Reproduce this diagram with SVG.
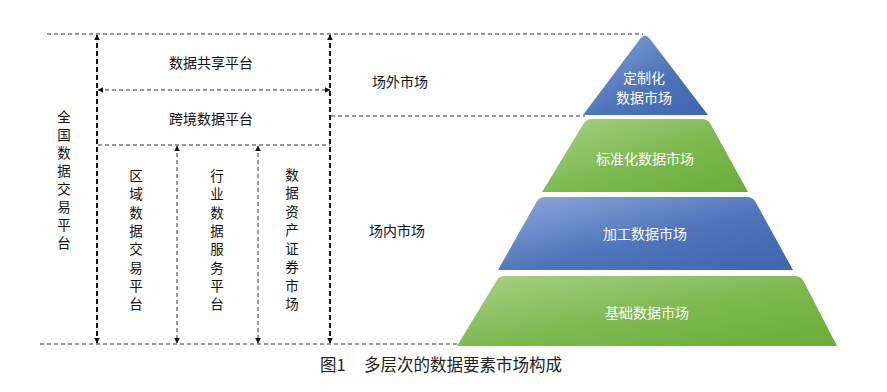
<svg xmlns="http://www.w3.org/2000/svg" width="887" height="392" viewBox="0 0 887 392">
<defs>
<linearGradient id="gBlue" x1="0" y1="0" x2="1" y2="1">
<stop offset="0" stop-color="#8ea9da"/>
<stop offset="0.55" stop-color="#4f74ba"/>
<stop offset="1" stop-color="#3e65b0"/>
</linearGradient>
<linearGradient id="gGreen" x1="0" y1="0" x2="1" y2="1">
<stop offset="0" stop-color="#a6d186"/>
<stop offset="0.55" stop-color="#7cb84e"/>
<stop offset="1" stop-color="#68ad38"/>
</linearGradient>
<marker id="ah" viewBox="0 0 10 10" refX="9" refY="5" markerWidth="6" markerHeight="6" markerUnits="userSpaceOnUse" orient="auto-start-reverse">
<path d="M0,0 L10,5 L0,10 Z" fill="#111"/>
</marker>
</defs>
<style>
.d{stroke:#333;stroke-width:1;stroke-dasharray:4 3;fill:none}
.dt{stroke:#111;stroke-width:2;stroke-dasharray:5 3;fill:none}
.t{font-family:"Noto Sans CJK SC","Liberation Sans",sans-serif;font-size:14px;fill:#111;text-anchor:middle;dominant-baseline:central}
.c{font-family:"Noto Sans CJK SC","Liberation Sans",sans-serif;font-size:13.5px;fill:#111;text-anchor:middle;dominant-baseline:central}
.w{font-family:"Noto Sans CJK SC","Liberation Sans",sans-serif;font-size:14px;fill:#fff;text-anchor:middle;dominant-baseline:central}
.cap{font-family:"Noto Sans CJK SC","Liberation Sans",sans-serif;font-size:16.5px;fill:#222;dominant-baseline:central}
</style>
<g id="connectors">
<line class="d" x1="47" y1="34" x2="643" y2="34"/>
<line class="d" x1="40" y1="344" x2="462" y2="344"/>
<line class="d" x1="331" y1="116" x2="585" y2="116"/>
<line class="d" x1="98" y1="145" x2="330" y2="145"/>
<line class="d" x1="98" y1="90" x2="330" y2="90" marker-start="url(#ah)" marker-end="url(#ah)"/>
<line class="dt" x1="97" y1="35" x2="97" y2="343" marker-start="url(#ah)" marker-end="url(#ah)"/>
<line class="dt" x1="330" y1="35" x2="330" y2="343" marker-start="url(#ah)" marker-end="url(#ah)"/>
<line class="d" x1="177" y1="146" x2="177" y2="343" marker-start="url(#ah)" marker-end="url(#ah)"/>
<line class="d" x1="258" y1="146" x2="258" y2="343" marker-start="url(#ah)" marker-end="url(#ah)"/>
</g>
<g id="label-national">
<text class="c" x="64" y="116">全</text>
<text class="c" x="64" y="134">国</text>
<text class="c" x="64" y="152">数</text>
<text class="c" x="64" y="170">据</text>
<text class="c" x="64" y="188">交</text>
<text class="c" x="64" y="206">易</text>
<text class="c" x="64" y="224">平</text>
<text class="c" x="64" y="242">台</text>
</g>
<g id="node-share"><text class="t" x="211" y="62">数据共享平台</text></g>
<g id="node-cross"><text class="t" x="211" y="118">跨境数据平台</text></g>
<g id="node-region">
<text class="c" x="136" y="175">区</text>
<text class="c" x="136" y="193">域</text>
<text class="c" x="136" y="212">数</text>
<text class="c" x="136" y="230">据</text>
<text class="c" x="136" y="248">交</text>
<text class="c" x="136" y="267">易</text>
<text class="c" x="136" y="285">平</text>
<text class="c" x="136" y="303">台</text>
</g>
<g id="node-industry">
<text class="c" x="217" y="175">行</text>
<text class="c" x="217" y="193">业</text>
<text class="c" x="217" y="212">数</text>
<text class="c" x="217" y="230">据</text>
<text class="c" x="217" y="248">服</text>
<text class="c" x="217" y="267">务</text>
<text class="c" x="217" y="285">平</text>
<text class="c" x="217" y="303">台</text>
</g>
<g id="node-asset">
<text class="c" x="292" y="174">数</text>
<text class="c" x="292" y="192">据</text>
<text class="c" x="292" y="211">资</text>
<text class="c" x="292" y="229">产</text>
<text class="c" x="292" y="248">证</text>
<text class="c" x="292" y="266">券</text>
<text class="c" x="292" y="285">市</text>
<text class="c" x="292" y="303">场</text>
</g>
<g id="label-otc"><text class="t" x="400" y="81">场外市场</text></g>
<g id="label-inside"><text class="t" x="397" y="230">场内市场</text></g>
<g id="tier1">
<path d="M583,115 L640,39 Q645,32 650,39 L708,115 Z" fill="url(#gBlue)"/>
<text class="w" x="644" y="77">定制化</text>
<text class="w" x="644" y="97">数据市场</text>
</g>
<g id="tier2">
<path d="M542,192 L584,123 Q587,119 592,119 L702,119 Q707,119 710,123 L748,192 Z" fill="url(#gGreen)"/>
<text class="w" x="645" y="158">标准化数据市场</text>
</g>
<g id="tier3">
<path d="M498,270 L537,201 Q540,197 545,197 L747,197 Q752,197 755,201 L793,270 Z" fill="url(#gBlue)"/>
<text class="w" x="645" y="233">加工数据市场</text>
</g>
<g id="tier4">
<path d="M457,346 L497,280 Q500,276 505,276 L795,276 Q800,276 803,280 L837,346 Z" fill="url(#gGreen)"/>
<text class="w" x="647" y="312">基础数据市场</text>
</g>
<g id="caption">
<text class="cap" x="320" y="364">图1</text>
<text class="cap" x="364" y="364">多层次的数据要素市场构成</text>
</g>
</svg>
